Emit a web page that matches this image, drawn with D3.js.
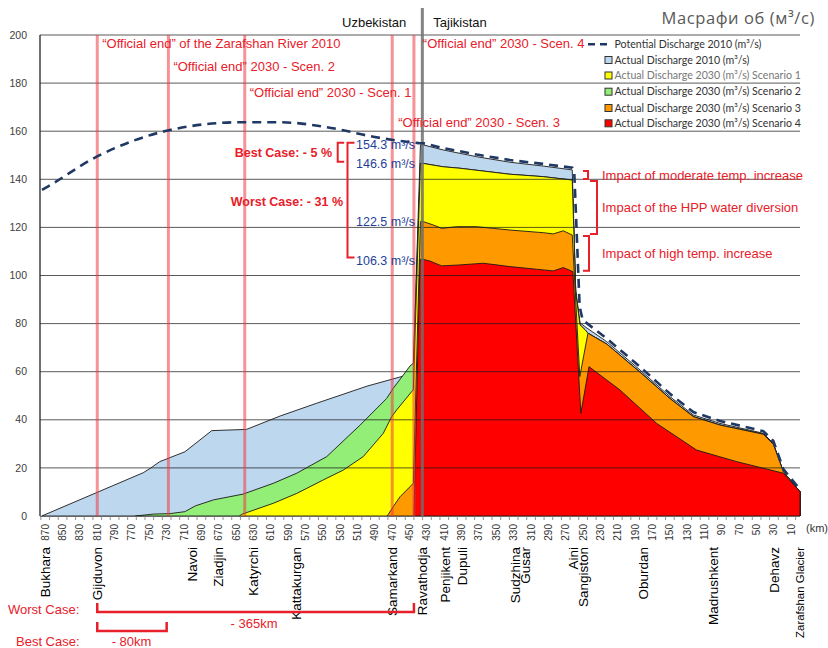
<!DOCTYPE html>
<html><head><meta charset="utf-8">
<script src="https://cdn.jsdelivr.net/npm/d3@7"></script>
<style>body{margin:0;background:#fff} svg{display:block}</style>
</head><body><svg id="c" width="828" height="648"></svg>
<script>
// ---------------- DATA ----------------
const yTicks = [0,20,40,60,80,100,120,140,160,180,200];
const kmTicks = [870,850,830,810,790,770,750,730,710,690,670,650,630,610,590,570,550,530,510,490,470,450,430,410,390,370,350,330,310,290,270,250,230,210,190,170,150,130,110,90,70,50,30,10];
const placeNames = ["Bukhara","Gijduvon","Navoi","Ziadjin","Katyrchi","Kattakurgan","Samarkand","Ravathodja","Penjikent","Dupuli","Sudzhina","Gusar","Aini","Sangiston","Oburdan","Madrushkent","Dehavz","Zarafshan Glacier"];
const placeKm    = [870,810,700,670,630,581,470,435,409,389,328.5,317,261.3,249.8,180.6,100,30,-0.5];

// [km, m3/s]
const potentialUz = [[873.7,135.6],[870.2,136.3],[810.6,149.4],[726.2,160.5],[645.5,163.7],[599.4,163.7],[538,161.2],[491.8,157.7],[453.3,155.6],[438,155]];
const potentialTj = [[438,155],[434.2,155],[411.2,153],[372.7,150.3],[334.3,148],[295.9,146.4],[262.5,144.8],[260.2,143],[254,87],[250.5,81.5],[222.8,73.8],[184.4,62],[149.8,50.8],[122.9,43.2],[92.2,39.5],[42.3,35.3],[30.7,31.2],[19.2,19.5],[0,11]];
const actual2010 = [[874,0],[757,18],[749,19.8],[738,22.6],[709,26.7],[678,35.5],[638,36],[599,41.6],[557,46.9],[499,54],[457,58.2],[447.6,59.6],[445.6,62],
  [437.5,154.3],[434.2,154.3],[411.2,152.2],[372.7,149.4],[334.3,147.1],[295.9,145.5],[262.5,143.9],[258.5,94],[253.6,80.4],[247.8,78.7],[222.8,72.5],[184.4,60.7],[149.8,49.6],[122.9,42],[92.2,38.5],[42.3,34.4],[30.7,30.2],[19.2,18.4],[0,10.1]];
const scen1 = [[646,0],[643.5,0.7],[607,5.3],[580,9.4],[549.5,15],[526.4,19.1],[503.4,24.7],[480.3,34.4],[470.6,41.3],[464.9,44.1],[447.6,51.7],[445.7,52.4],
  [437.5,146.6],[434.2,146.6],[411.2,145.2],[391.9,144.6],[334.3,142.1],[295.9,141.1],[262.5,139.7],[258.5,93],[253.6,79.5],[247.8,77.5],[244.4,76],[222.8,71.5],[184.4,59.8],[149.8,48.8],[122.9,41.3],[92.2,37.8],[42.3,34],[30.7,29.8],[19.2,18.4],[0,10.1]];
const scen2 = [[766,0],[745,0.8],[726,1],[709,1.8],[697,4.2],[676,6.7],[642,9.1],[607,13.6],[580,17.8],[545.5,24.7],[507,37.8],[476.4,48.9],[468.8,53.1],[457.3,58.6],[449.5,62.4],[445.7,63.5],
  [437.5,146.6],[434.2,146.6],[411.2,145.2],[391.9,144.6],[334.3,142.1],[295.9,141.1],[262.5,139.7],[258.5,93],[253.6,79.5],[247.8,77.5],[244.4,76],[222.8,71.5],[184.4,59.8],[149.8,48.8],[122.9,41.3],[92.2,37.8],[42.3,34],[30.7,29.8],[19.2,18.4],[0,10.1]];
const scen3 = [[476,0],[474.5,0.7],[468.8,3.9],[461,8],[449.5,12.2],[445.7,13.6],
  [437.5,122.4],[434.2,122.4],[422.7,121],[413,119.6],[395.7,120.3],[372.7,120.3],[353.5,119.6],[334.3,118.9],[295.9,117.8],[284.4,117.3],[272.8,118.6],[262.5,116.8],[253.8,58],[244.4,76],[222.8,71.5],[184.4,59.8],[149.8,48.8],[122.9,41.3],[92.2,37.8],[42.3,34],[30.7,29.8],[19.2,18.4],[0,10.1]];
const scen4 = [[445,0],[438,106.7],[434.2,106.7],[426.5,106],[413,104],[391.9,104.4],[365,105.1],[334.3,103.7],[303.5,102.6],[284.4,101.9],[272.8,103.3],[261.8,101.6],[252.6,42.7],[243.2,62.1],[207.5,52.4],[165.2,38.5],[119.1,27.4],[72.9,22.6],[19.2,17.8],[0,10.1]];

const endKm = [810,728,640,470,445];
const endLabels = ["\u201cOfficial end\u201d of the Zarafshan River 2010","\u201cOfficial end\u201d 2030 - Scen. 2","\u201cOfficial end\u201d 2030 - Scen. 1","\u201cOfficial end\u201d 2030 - Scen. 3","\u201cOfficial end\u201d 2030 - Scen. 4"];
const borderKm = 435.3;
const flowLabels = [154.3,146.6,122.5,106.3];
const legendLabels = ["Potential Discharge 2010 (m\u00b3/s)","Actual Discharge 2010 (m\u00b3/s)","Actual Discharge 2030 (m\u00b3/s) Scenario 1","Actual Discharge 2030 (m\u00b3/s) Scenario 2","Actual Discharge 2030 (m\u00b3/s) Scenario 3","Actual Discharge 2030 (m\u00b3/s) Scenario 4"];
const impactLabels = ["Impact of moderate temp. increase","Impact of the HPP water diversion","Impact of high temp. increase"];
const impactRanges = [[143.9,139.7],[139.7,116.8],[116.8,101.6]];
const worstKm = [810,445], bestKm = [810,730];

// ---------------- CHART ----------------
const svg = d3.select('#c');
const FONT = "'Liberation Sans', Arial, sans-serif";
const RED = "#e8202a";
const x = d3.scaleLinear().domain([876,0]).range([40,800]);
const y = d3.scaleLinear().domain([0,200]).range([516,35]);
const area = d3.area().x(d=>x(d[0])).y0(y(0)).y1(d=>y(d[1]));

const series = [
  {data: actual2010, color:'#bdd7ee'},
  {data: scen2, color:'#92ee76'},
  {data: scen1, color:'#ffff00'},
  {data: scen3, color:'#ff9900'},
  {data: scen4, color:'#ff0000'}
];
series.forEach(s=>{
  svg.append('path').attr('d', area(s.data)).attr('fill', s.color)
    .attr('stroke','#1a1a1a').attr('stroke-width',0.9).attr('stroke-linejoin','round');
});

// gridlines
svg.append('g').selectAll('line').data(yTicks.filter(v=>v>0)).join('line')
  .attr('x1',40).attr('x2',800).attr('y1',d=>y(d)).attr('y2',d=>y(d))
  .attr('stroke','#1a1a1a').attr('stroke-opacity',0.72).attr('stroke-width',1);

// y labels
svg.append('g').selectAll('text').data(yTicks).join('text')
  .attr('x',27).attr('y',d=>y(d)).attr('dy','0.35em').attr('text-anchor','end')
  .attr('font-family',FONT).attr('font-size',10.5).attr('fill','#404040').text(d=>d);

// axes lines
svg.append('line').attr('x1',40).attr('x2',40).attr('y1',y(200)).attr('y2',y(0)).attr('stroke','#222').attr('stroke-width',1.3);
svg.append('line').attr('x1',40).attr('x2',800).attr('y1',y(0)+0.5).attr('y2',y(0)+0.5).attr('stroke','#666').attr('stroke-width',1);
svg.append('g').selectAll('line').data(d3.range(875,0,-10)).join('line')
  .attr('x1',d=>x(d)).attr('x2',d=>x(d)).attr('y1',y(0)).attr('y2',y(0)+4)
  .attr('stroke','#777').attr('stroke-width',0.8);

// km tick labels
svg.append('g').selectAll('text').data(kmTicks).join('text')
  .attr('transform',d=>`translate(${x(d)},524) rotate(-90)`).attr('dy','0.35em')
  .attr('text-anchor','end').attr('font-family',FONT).attr('font-size',10).attr('fill','#333').text(d=>d);
svg.append('text').attr('x',806).attr('y',532).attr('font-family',FONT).attr('font-size',11).attr('fill','#333').text('(km)');

// place names (shrink any that would run past the bottom)
svg.append('g').selectAll('text').data(placeNames).join('text')
  .attr('transform',(d,i)=>`translate(${x(placeKm[i])},547) rotate(-90)`).attr('dy','0.35em')
  .attr('text-anchor','end').attr('font-family',FONT).attr('font-size',13.5).attr('fill','#000').text(d=>d)
  .each(function(){
    const L = this.getComputedTextLength(), maxL = 91;
    if (L > maxL) d3.select(this).attr('font-size', 13.5*maxL/L);
  });

// official end lines
svg.append('g').selectAll('line').data(endKm).join('line')
  .attr('x1',d=>x(d)).attr('x2',d=>x(d)).attr('y1',y(200)).attr('y2',y(0))
  .attr('stroke','#ee3b42').attr('stroke-opacity',0.55).attr('stroke-width',3);

// country border
svg.append('line').attr('x1',x(borderKm)).attr('x2',x(borderKm)).attr('y1',8).attr('y2',y(0))
  .attr('stroke','#6e6e6e').attr('stroke-opacity',0.85).attr('stroke-width',3);

// potential discharge dashed
svg.append('path').attr('d', d3.line().x(d=>x(d[0])).y(d=>y(d[1])).curve(d3.curveMonotoneX)(potentialUz))
  .attr('fill','none').attr('stroke','#1f3864').attr('stroke-width',2.6).attr('stroke-dasharray','9,6');
svg.append('path').attr('d', d3.line().x(d=>x(d[0])).y(d=>y(d[1]))(potentialTj))
  .attr('fill','none').attr('stroke','#1f3864').attr('stroke-width',2.6).attr('stroke-dasharray','9,6').attr('stroke-dashoffset',4);

// country labels
svg.append('text').attr('x',x(borderKm)-16).attr('y',22).attr('dy','0.35em').attr('text-anchor','end')
  .attr('font-family',FONT).attr('font-size',13).attr('fill','#111').text('Uzbekistan');
svg.append('text').attr('x',x(borderKm)+11).attr('y',22).attr('dy','0.35em')
  .attr('font-family',FONT).attr('font-size',13).attr('fill','#111').text('Tajikistan');

// title
svg.append('text').attr('x',815).attr('y',18).attr('dy','0.35em').attr('text-anchor','end')
  .attr('font-family',"'Open Sans', sans-serif").attr('font-size',16.5).attr('letter-spacing',0.6).attr('fill','#595959').text('Масрафи об (м³/с)');

// official end labels
const endLabelY = [43.3,66.7,92.3,122.7,43.3];
const endLabelX = [x(endKm[0])+5, x(endKm[1])+5, x(endKm[2])+5, x(endKm[3])+6, x(borderKm)+0.5];
endLabels.forEach((t,i)=>{
  svg.append('text').attr('x',endLabelX[i]).attr('y',endLabelY[i]).attr('dy','0.35em')
    .attr('font-family',FONT).attr('font-size',13).attr('fill',RED).text(t);
});

// flow labels
flowLabels.forEach(v=>{
  svg.append('text').attr('x',356).attr('y',y(v)).attr('dy','0.35em')
    .attr('font-family',FONT).attr('font-size',12.5).attr('fill','#1f3f99').text(v.toFixed(1)+' m\u00b3/s');
});

// left brackets
function bracketL(xv, y1, y2, w){
  svg.append('path').attr('d',`M${xv+w},${y1}H${xv}V${y2}H${xv+w}`).attr('fill','none').attr('stroke',RED).attr('stroke-width',2);
}
bracketL(337.7, y(155.2), y(147.3), 6.5);
bracketL(347.5, y(155.2), y(107.5), 7);
svg.append('text').attr('x',332).attr('y',152.7).attr('dy','0.35em').attr('text-anchor','end')
  .attr('font-family',FONT).attr('font-size',12.5).attr('font-weight','bold').attr('fill',RED).text('Best Case: - 5 %');
svg.append('text').attr('x',343).attr('y',201.7).attr('dy','0.35em').attr('text-anchor','end')
  .attr('font-family',FONT).attr('font-size',12.5).attr('font-weight','bold').attr('fill',RED).text('Worst Case: - 31 %');

// right brackets
function bracketR(xv, y1, y2, w){
  svg.append('path').attr('d',`M${xv-w},${y1}H${xv}V${y2}H${xv-w}`).attr('fill','none').attr('stroke',RED).attr('stroke-width',2);
}
const brX = [588, 597, 589], brW = [5, 7, 6];
impactRanges.forEach((r,i)=>{
  bracketR(brX[i], y(r[0])+1, y(r[1])-1, brW[i]);
  svg.append('text').attr('x',602).attr('y',y((r[0]+r[1])/2)).attr('dy','0.35em')
    .attr('font-family',FONT).attr('font-size',13).attr('fill',RED).text(impactLabels[i]);
});

// legend
const legendColors = [null,'#bdd7ee','#ffff00','#92ee76','#ff9900','#ff0000'];
const legY = [44.3,60,75.5,91.7,108,123.3];
const legTextColors = ['#333','#333','#777','#333','#333','#333'];
legendLabels.forEach((t,i)=>{
  if(i===0){
    svg.append('line').attr('x1',588).attr('x2',612).attr('y1',legY[i]).attr('y2',legY[i])
      .attr('stroke','#1f3864').attr('stroke-width',2.4).attr('stroke-dasharray','7,5');
  } else {
    svg.append('rect').attr('x',605).attr('y',legY[i]-3.5).attr('width',7).attr('height',7)
      .attr('fill',legendColors[i]).attr('stroke','#333').attr('stroke-width',1);
  }
  svg.append('text').attr('x',614.5).attr('y',legY[i]).attr('dy','0.35em')
    .attr('font-family',"Lato, 'Open Sans', sans-serif").attr('font-size',10.6).attr('fill',legTextColors[i]).text(t);
});

// bottom case brackets
function bracketB(k1,k2,yv,h){
  svg.append('path').attr('d',`M${x(k1)},${yv-h}V${yv}H${x(k2)}V${yv-h}`).attr('fill','none').attr('stroke',RED).attr('stroke-width',2.5);
}
bracketB(worstKm[0],worstKm[1],612,9);
bracketB(bestKm[0],bestKm[1],631,9);
const txt = (xv,yv,t,anchor)=>svg.append('text').attr('x',xv).attr('y',yv).attr('dy','0.35em').attr('text-anchor',anchor||'start')
  .attr('font-family',FONT).attr('font-size',13).attr('fill',RED).text(t);
txt(8,609,'Worst Case:');
txt(254,623.5,'- 365km','middle');
txt(16,641,'Best Case:');
txt(131.5,641,'- 80km','middle');
</script></body></html>
